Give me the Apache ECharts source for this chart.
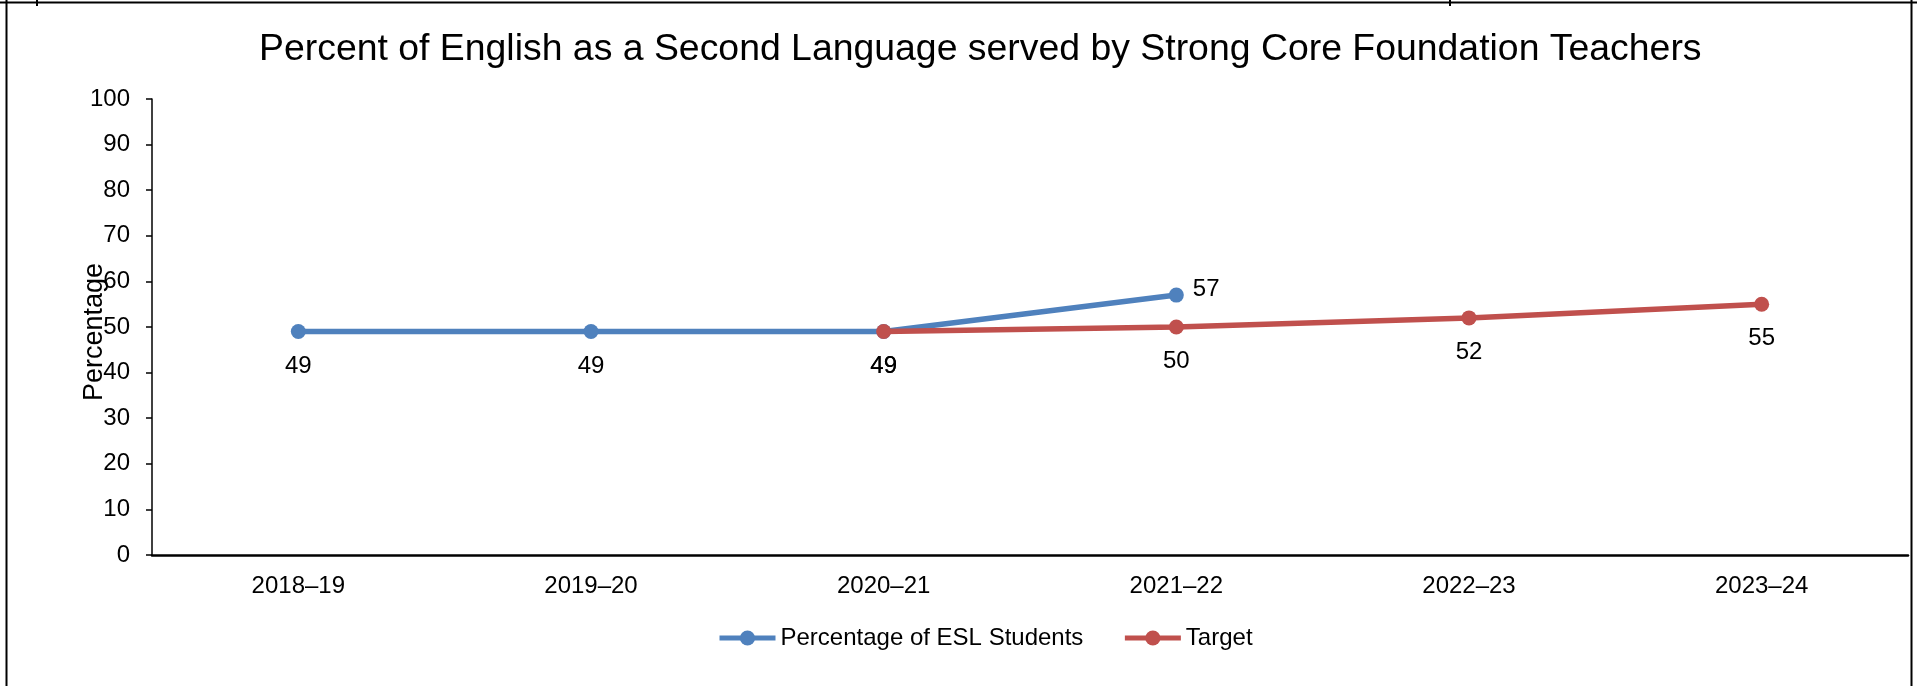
<!DOCTYPE html>
<html>
<head>
<meta charset="utf-8">
<script src="https://cdn.jsdelivr.net/npm/echarts@6/dist/echarts.min.js"></script>
<style>
html,body{margin:0;padding:0;background:#fff;}
#chart{width:1917px;height:686px;}
</style>
</head>
<body>
<div id="chart"></div>
<script>
var titleText = 'Percent of English as a Second Language served by Strong Core Foundation Teachers';
var categories = ['2018\u201319', '2019\u201320', '2020\u201321', '2021\u201322', '2022\u201323', '2023\u201324'];
var eslValues = [49, 49, 49, 57, null, null];
var targetValues = [null, null, 49, 50, 52, 55];
var seriesNames = ['Percentage of ESL Students', 'Target'];
var yAxisName = 'Percentage';

var FONT = "'Liberation Sans', Arial, Helvetica, sans-serif";
var chart = echarts.init(document.getElementById('chart'), null, {renderer: 'canvas'});

function bottomLabel() {
  return {show: true, position: 'bottom', distance: 15, color: '#000', fontSize: 24, fontFamily: FONT};
}

var option = {
  backgroundColor: '#fff',
  animation: false,
  textStyle: {fontFamily: FONT, color: '#000'},
  title: {
    text: titleText,
    left: 259,
    top: 31,
    padding: 0,
    textStyle: {fontSize: 37.4, fontWeight: 'normal', color: '#000', fontFamily: FONT}
  },
  legend: {
    data: seriesNames,
    left: 717,
    top: 626,
    itemWidth: 56,
    itemHeight: 19,
    itemGap: 39,
    padding: 0,
    lineStyle: {width: 5},
    textStyle: {fontSize: 24, color: '#000', fontFamily: FONT, padding: [0, 0, 0, 0]}
  },
  grid: {left: 152, right: 9, top: 99, bottom: 131, containLabel: false, outerBoundsMode: 'none'},
  xAxis: {
    type: 'category',
    data: categories,
    boundaryGap: true,
    axisLine: {lineStyle: {color: '#000', width: 2.5}},
    axisTick: {show: false},
    axisLabel: {color: '#000', fontSize: 24, fontFamily: FONT, margin: 19},
    splitLine: {show: false}
  },
  yAxis: {
    type: 'value',
    min: 0,
    max: 100,
    interval: 10,
    name: yAxisName,
    nameLocation: 'middle',
    nameGap: 44,
    nameMoveOverlap: false,
    nameTextStyle: {fontSize: 27, color: '#000', fontFamily: FONT, padding: [0, 10, 0, 0]},
    axisLine: {show: true, lineStyle: {color: '#000', width: 1.5}},
    axisTick: {show: true, inside: false, length: 6, lineStyle: {color: '#000', width: 1.5}},
    axisLabel: {color: '#000', fontSize: 24, fontFamily: FONT, margin: 22},
    splitLine: {show: false}
  },
  series: [
    {
      name: seriesNames[0],
      type: 'line',
      data: eslValues,
      symbol: 'circle',
      symbolSize: 15,
      color: '#4F81BD',
      lineStyle: {width: 5.5, color: '#4F81BD'},
      itemStyle: {color: '#4F81BD'},
      connectNulls: false,
      label: bottomLabel(),
      labelLayout: function (params) {
        if (params.dataIndex === 3) {
          return {x: params.rect.x + params.rect.width + 9, y: params.rect.y - 10, align: 'left', verticalAlign: 'top'};
        }
        return {};
      },
      z: 2
    },
    {
      name: seriesNames[1],
      type: 'line',
      data: targetValues,
      symbol: 'circle',
      symbolSize: 15,
      color: '#C0504D',
      lineStyle: {width: 5.5, color: '#C0504D'},
      itemStyle: {color: '#C0504D'},
      connectNulls: false,
      label: bottomLabel(),
      z: 3
    }
  ],
  graphic: [
    {type: 'line', shape: {x1: 0, y1: 2.5, x2: 1917, y2: 2.5}, style: {stroke: '#000', lineWidth: 2}, silent: true},
    {type: 'line', shape: {x1: 6.5, y1: 0, x2: 6.5, y2: 686}, style: {stroke: '#000', lineWidth: 2}, silent: true},
    {type: 'line', shape: {x1: 1911.5, y1: 0, x2: 1911.5, y2: 686}, style: {stroke: '#000', lineWidth: 2}, silent: true},
    {type: 'line', shape: {x1: 37, y1: 0, x2: 37, y2: 6}, style: {stroke: '#000', lineWidth: 2}, silent: true},
    {type: 'line', shape: {x1: 1450, y1: 0, x2: 1450, y2: 6}, style: {stroke: '#000', lineWidth: 2}, silent: true}
  ]
};
chart.setOption(option);
</script>
</body>
</html>
